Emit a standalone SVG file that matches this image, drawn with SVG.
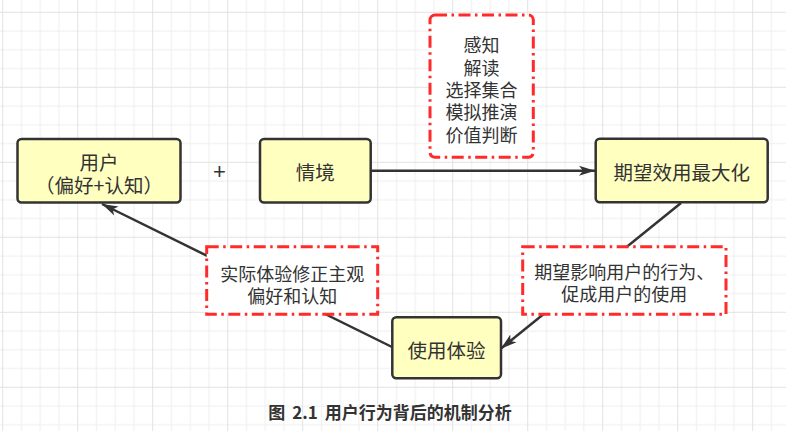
<svg xmlns="http://www.w3.org/2000/svg" width="786" height="431" viewBox="0 0 786 431">
<defs>
<pattern id="grid" x="2.2" y="11.8" width="75" height="75" patternUnits="userSpaceOnUse">
<path d="M19.25 0V75M38 0V75M56.75 0V75M0 19.25H75M0 38H75M0 56.75H75" stroke="#eeeeee" stroke-width="1" fill="none"/>
<path d="M0.5 0V75M0 0.5H75" stroke="#e2e2e2" stroke-width="1" fill="none"/>
</pattern>
<marker id="arr" markerUnits="userSpaceOnUse" markerWidth="17" markerHeight="11" refX="16" refY="5.5" orient="auto">
<path d="M0,0.5 L16,5.5 L0,10.5 L4,5.5 Z" fill="#333"/>
</marker>
<style>
.node{fill:#ffffc0;stroke:#333;stroke-width:2.5}
.lab{fill:#fff;stroke:#ff2a2a;stroke-width:3;stroke-dasharray:12 4.5 2.5 4.5}
.t{font-family:"Noto Sans CJK SC","Noto Sans",sans-serif;fill:#333;text-anchor:middle;dominant-baseline:central}
.nt{font-size:19.5px}
.lt{font-size:18px}
.edge{stroke:#333;stroke-width:2.5;fill:none;marker-end:url(#arr)}
</style>
</defs>
<rect width="786" height="431" fill="#fff"/>
<rect width="786" height="431" fill="url(#grid)"/>
<g id="connectors">
<line class="edge" x1="371" y1="170.7" x2="595" y2="170.7"/>
<line class="edge" x1="681" y1="203" x2="501" y2="348.5"/>
<line class="edge" x1="392" y1="347" x2="102" y2="204"/>
</g>
<g id="user">
<rect class="node" x="17.5" y="139" width="163" height="63.5" rx="4"/>
<text class="t nt"><tspan x="99" y="160.7">用户</tspan><tspan x="99" y="184">（偏好+认知）</tspan></text>
</g>
<g id="plus">
<text class="t" style="font-size:22px;font-family:'Liberation Sans',sans-serif" x="219.5" y="171">+</text>
</g>
<g id="context">
<rect class="node" x="260" y="139" width="110.7" height="63.5" rx="4"/>
<text class="t nt" x="315.3" y="171">情境</text>
</g>
<g id="utility">
<rect class="node" x="595.7" y="138.7" width="172" height="63.6" rx="4"/>
<text class="t nt" x="681.7" y="171">期望效用最大化</text>
</g>
<g id="experience">
<rect class="node" x="392.3" y="317.3" width="108.7" height="61" rx="4"/>
<text class="t nt" x="446.6" y="349.5">使用体验</text>
</g>
<g id="label-cognition">
<rect class="lab" x="430" y="15" width="103.3" height="142.3" rx="5"/>
<text class="t lt"><tspan x="481.6" y="44.3">感知</tspan><tspan x="481.6" y="66.6">解读</tspan><tspan x="481.6" y="88.9">选择集合</tspan><tspan x="481.6" y="111.2">模拟推演</tspan><tspan x="481.6" y="133.5">价值判断</tspan></text>
</g>
<g id="label-correct">
<rect class="lab" x="206.7" y="246.7" width="171" height="67.6"/>
<text class="t lt"><tspan x="292.2" y="272.5">实际体验修正主观</tspan><tspan x="292.2" y="294.5">偏好和认知</tspan></text>
</g>
<g id="label-influence">
<rect class="lab" x="522.7" y="246.7" width="203.3" height="67.6"/>
<text class="t lt"><tspan x="624.3" y="270.7">期望影响用户的行为、</tspan><tspan x="624.3" y="293.3">促成用户的使用</tspan></text>
</g>
<g id="caption">
<text class="t" style="font-size:17px;font-weight:bold;word-spacing:3px" x="390" y="411.7">图 2.1 用户行为背后的机制分析</text>
</g>
</svg>
